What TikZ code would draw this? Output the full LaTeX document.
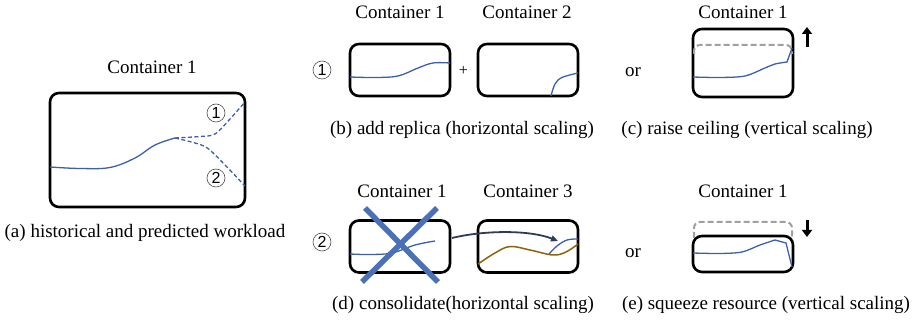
\documentclass[tikz,border=0pt]{standalone}
\usepackage{fontspec}
\setmainfont{Liberation Serif}
\setsansfont{Liberation Sans}
\usetikzlibrary{arrows.meta}
\definecolor{load}{HTML}{3D5FA8}
\definecolor{crossblue}{HTML}{4A70B8}
\definecolor{other}{HTML}{8A6508}
\definecolor{move}{HTML}{2E3D56}
\definecolor{ceil}{HTML}{A0A0A0}
\tikzset{
  container/.style={draw=black, line width=2.6pt, rounded corners=9pt, inner sep=0pt},
  label/.style={font=\fontsize{19}{21}\selectfont, inner sep=0pt, anchor=base},
  caption/.style={font=\fontsize{19}{21}\selectfont, inner sep=0pt, anchor=base},
  numcirc/.style={draw=black!70, line width=0.6pt, circle, minimum size=18pt, inner sep=0pt, font=\sffamily\fontsize{16}{16}\selectfont},
  loadline/.style={draw=load, line width=1.3pt},
  predline/.style={draw=load, line width=1.3pt, dash pattern=on 4pt off 2.5pt},
  ceilline/.style={draw=ceil, line width=2pt, dash pattern=on 6pt off 3pt, rounded corners=6pt},
  crossline/.style={draw=crossblue, line width=5.5pt},
  vertarrow/.style={draw=black, line width=3pt, -{Triangle[length=7pt,width=10pt]}},
}
\begin{document}
\begin{tikzpicture}[x=1pt,y=-1pt]
\useasboundingbox (0,0) rectangle (921,320);

% (a) historical and predicted workload
\node[label] (ta) at (152,74) {Container 1};
\node[container, minimum width=195pt, minimum height=114pt] (ca) at (147.5,150) {};
\draw[loadline] plot[smooth, tension=0.6] coordinates {(50,167) (80,168.5) (110,167.5) (135,158) (155,145) (175,138)};
\draw[predline] plot[smooth, tension=0.5] coordinates {(175,138) (200,136.5) (215,134) (230,119) (245,102)};
\draw[predline] plot[smooth, tension=0.5] coordinates {(175,138) (195,143) (208,148.5) (226,166) (245,186)};
\node[numcirc] (na1) at (216,113) {1};
\node[numcirc] (na2) at (216,178) {2};
\node[caption] (capa) at (145,238) {(a) historical and predicted workload};

% (b) add replica
\node[label] (tb1) at (400,19) {Container 1};
\node[label] (tb2) at (527,19) {Container 2};
\node[numcirc] (nb) at (322,70) {1};
\node[container, minimum width=100pt, minimum height=52pt] (cb1) at (400,70) {};
\node[container, minimum width=100pt, minimum height=52pt] (cb2) at (528,70) {};
\node[inner sep=0pt, font=\fontsize{16}{16}\selectfont] (plus) at (463.5,71) {+};
\draw[loadline] plot[smooth, tension=0.6] coordinates {(350,77) (375,77.5) (398,76) (418,68) (433,63) (450,63)};
\draw[loadline] plot[smooth, tension=0.6] coordinates {(551,96) (555,84) (562,77.5) (578,73)};
\node[caption] (capb) at (462,135) {(b) add replica (horizontal scaling)};

% (c) raise ceiling
\node[label] (tc) at (743,19) {Container 1};
\node[caption] (orc) at (633,77) {or};
\node[container, minimum width=100pt, minimum height=68pt] (cc) at (743,63) {};
\draw[ceilline] (694,54) -- (694,45) -- (792,45) -- (792,54);
\draw[loadline] plot[smooth, tension=0.5] coordinates {(693,77) (720,77.5) (745,76) (765,68) (775,64) (787,62)} -- (792,48);
\coordinate (uc0) at (807,47);
\coordinate (uc1) at (807,27);
\draw[vertarrow] (uc0) -- (uc1);
\node[caption] (capc) at (747,135) {(c) raise ceiling (vertical scaling)};

% (d) consolidate
\node[label] (td1) at (402,198) {Container 1};
\node[label] (td3) at (528,198) {Container 3};
\node[numcirc] (nd) at (322,242) {2};
\node[container, minimum width=100pt, minimum height=52pt] (cd1) at (400,246.5) {};
\node[container, minimum width=100pt, minimum height=52pt] (cd3) at (528,246.5) {};
\draw[loadline] plot[smooth, tension=0.6] coordinates {(350,254) (370,254.5) (392,253) (415,245) (435,241)};
\draw[crossline] (365,208) -- (438,282);
\draw[crossline] (437,208) -- (362,282);
\draw[draw=other, line width=1.5pt] plot[smooth, tension=0.6] coordinates {(478,264) (495,253) (510,246.5) (530,250) (553,255) (566,252) (578,244)};
\draw[loadline] plot[smooth, tension=0.6] coordinates {(549,254) (557,246) (567,240) (578,239)};
\coordinate (mv0) at (452,238);
\coordinate (mv1) at (558,241);
\draw[draw=move, line width=1.8pt, -{Triangle[length=7pt,width=6pt]}] (mv0) .. controls (485,230) and (530,230) .. (mv1);
\node[caption] (capd) at (463,310) {(d) consolidate(horizontal scaling)};

% (e) squeeze resource
\node[label] (te) at (743,198) {Container 1};
\node[caption] (ore) at (633,258) {or};
\node[container, minimum width=100pt, minimum height=36pt] (ce) at (743,254) {};
\draw[ceilline] (694,238) -- (694,222) -- (792,222) -- (792,238);
\draw[loadline] plot[smooth, tension=0.5] coordinates {(693,253) (720,253.5) (742,252) (760,245) (775,240)} -- (786,243) -- (792,267);
\coordinate (de0) at (807,220);
\coordinate (de1) at (807,237);
\draw[vertarrow] (de0) -- (de1);
\node[caption] (cape) at (766,310) {(e) squeeze resource (vertical scaling)};
\end{tikzpicture}
\end{document}
